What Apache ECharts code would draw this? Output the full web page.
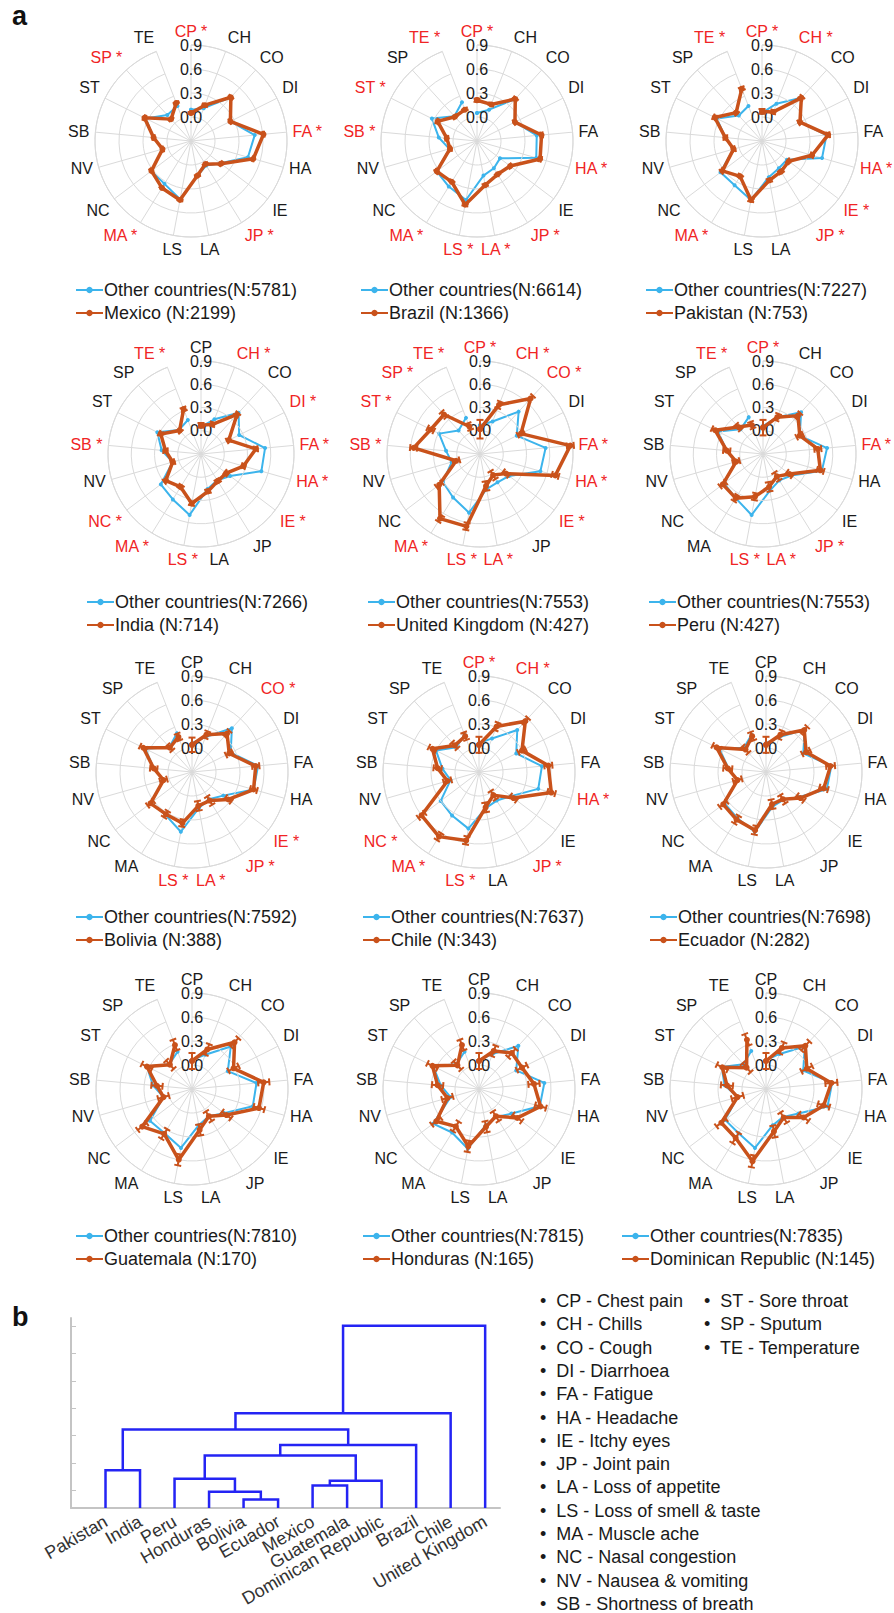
<!DOCTYPE html>
<html>
<head>
<meta charset="utf-8">
<title>Symptom radar charts</title>
<script src="https://cdn.jsdelivr.net/npm/echarts@6/dist/echarts.min.js"></script>
<style>
  html, body { margin: 0; padding: 0; background: #fff; }
  #chart { width: 894px; height: 1613px; }
</style>
</head>
<body>
<div id="chart"></div>
<script>
// symptom codes, clockwise from the top
const symptoms = ['CP', 'CH', 'CO', 'DI', 'FA', 'HA', 'IE', 'JP', 'LA', 'LS', 'MA', 'NC', 'NV', 'SB', 'ST', 'SP', 'TE'];
const symptomNames = ['Chest pain', 'Chills', 'Cough', 'Diarrhoea', 'Fatigue', 'Headache', 'Itchy eyes', 'Joint pain',
  'Loss of appetite', 'Loss of smell & taste', 'Muscle ache', 'Nasal congestion', 'Nausea & vomiting',
  'Shortness of breath', 'Sore throat', 'Sputum', 'Temperature'];

const countries = ['Mexico', 'Brazil', 'Pakistan', 'India', 'United Kingdom', 'Peru',
  'Bolivia', 'Chile', 'Ecuador', 'Guatemala', 'Honduras', 'Dominican Republic'];
const countryN = [2199, 1366, 753, 714, 427, 427, 388, 343, 282, 170, 165, 145];
const otherN = [5781, 6614, 7227, 7266, 7553, 7553, 7592, 7637, 7698, 7810, 7815, 7835];

// proportions per symptom (same order as symptoms)
const mexico      = [0.05, 0.18, 0.44, 0.25, 0.61, 0.51, 0.17, 0.04, 0.14, 0.45, 0.39, 0.32, 0.07, 0.17, 0.35, 0.07, 0.21];
const mexicoOther = [0.09, 0.14, 0.44, 0.25, 0.50, 0.44, 0.16, 0.06, 0.14, 0.44, 0.33, 0.32, 0.07, 0.17, 0.33, 0.14, 0.17];
const brazil      = [0.21, 0.19, 0.41, 0.23, 0.51, 0.52, 0.22, 0.19, 0.26, 0.51, 0.30, 0.33, 0.05, 0.08, 0.25, 0.11, 0.12];
const brazilOther = [0.05, 0.12, 0.41, 0.23, 0.45, 0.47, 0.06, 0.10, 0.14, 0.45, 0.37, 0.33, 0.06, 0.18, 0.33, 0.12, 0.22];
const pakistan      = [0.07, 0.09, 0.43, 0.23, 0.53, 0.35, 0.12, 0.15, 0.20, 0.45, 0.22, 0.32, 0.07, 0.16, 0.36, 0.18, 0.40];
const pakistanOther = [0.05, 0.20, 0.43, 0.23, 0.51, 0.48, 0.09, 0.10, 0.16, 0.45, 0.35, 0.35, 0.07, 0.16, 0.33, 0.13, 0.17];
const india      = [0.07, 0.11, 0.39, 0.10, 0.41, 0.27, 0.11, 0.11, 0.19, 0.35, 0.20, 0.27, 0.08, 0.16, 0.28, 0.11, 0.32];
const indiaOther = [0.05, 0.18, 0.42, 0.25, 0.53, 0.51, 0.17, 0.10, 0.16, 0.50, 0.39, 0.35, 0.08, 0.21, 0.33, 0.12, 0.17];
const uk      = [0.02, 0.38, 0.67, 0.29, 0.87, 0.71, 0.12, 0.02, 0.12, 0.65, 0.68, 0.36, 0.02, 0.56, 0.41, 0.39, 0.08];
const ukOther = [0.07, 0.15, 0.44, 0.23, 0.55, 0.51, 0.17, 0.13, 0.16, 0.47, 0.36, 0.30, 0.08, 0.14, 0.29, 0.11, 0.20];
const peru      = [0.04, 0.21, 0.37, 0.23, 0.41, 0.47, 0.13, 0.04, 0.13, 0.26, 0.37, 0.35, 0.06, 0.17, 0.39, 0.17, 0.10];
const peruOther = [0.06, 0.21, 0.43, 0.23, 0.53, 0.49, 0.16, 0.10, 0.18, 0.50, 0.37, 0.33, 0.07, 0.17, 0.35, 0.13, 0.21];
const bolivia      = [0.04, 0.20, 0.35, 0.22, 0.50, 0.50, 0.27, 0.12, 0.13, 0.35, 0.32, 0.35, 0.07, 0.18, 0.38, 0.11, 0.17];
const boliviaOther = [0.06, 0.17, 0.44, 0.24, 0.53, 0.50, 0.19, 0.10, 0.16, 0.46, 0.33, 0.34, 0.07, 0.18, 0.35, 0.12, 0.22];
const chile      = [0.04, 0.31, 0.56, 0.30, 0.57, 0.64, 0.24, 0.04, 0.15, 0.57, 0.65, 0.60, 0.11, 0.22, 0.35, 0.15, 0.18];
const chileOther = [0.06, 0.15, 0.41, 0.22, 0.49, 0.47, 0.20, 0.12, 0.16, 0.42, 0.34, 0.30, 0.07, 0.16, 0.30, 0.12, 0.20];
const ecuador      = [0.04, 0.20, 0.41, 0.26, 0.51, 0.45, 0.24, 0.10, 0.11, 0.44, 0.40, 0.37, 0.07, 0.18, 0.39, 0.08, 0.18];
const ecuadorOther = [0.06, 0.17, 0.42, 0.22, 0.52, 0.49, 0.22, 0.11, 0.14, 0.46, 0.38, 0.35, 0.07, 0.17, 0.35, 0.11, 0.20];
const guatemala      = [0.05, 0.23, 0.49, 0.28, 0.60, 0.57, 0.24, 0.10, 0.22, 0.60, 0.36, 0.48, 0.07, 0.14, 0.33, 0.11, 0.29];
const guatemalaOther = [0.06, 0.16, 0.42, 0.20, 0.51, 0.49, 0.20, 0.10, 0.16, 0.45, 0.35, 0.36, 0.07, 0.19, 0.33, 0.12, 0.20];
const honduras      = [0.05, 0.21, 0.31, 0.30, 0.39, 0.50, 0.30, 0.10, 0.18, 0.43, 0.25, 0.37, 0.11, 0.22, 0.35, 0.10, 0.29];
const hondurasOther = [0.06, 0.17, 0.43, 0.22, 0.52, 0.49, 0.21, 0.11, 0.16, 0.46, 0.34, 0.42, 0.07, 0.18, 0.34, 0.12, 0.20];
const dominican      = [0.05, 0.25, 0.43, 0.27, 0.52, 0.45, 0.29, 0.12, 0.24, 0.62, 0.42, 0.40, 0.07, 0.19, 0.31, 0.06, 0.36];
const dominicanOther = [0.06, 0.17, 0.42, 0.22, 0.53, 0.50, 0.21, 0.11, 0.16, 0.45, 0.35, 0.34, 0.07, 0.22, 0.32, 0.12, 0.21];

// half-width of the error bars on the country series
const mexicoErr    = [0.01, 0.01, 0.01, 0.01, 0.01, 0.01, 0.01, 0.01, 0.01, 0.01, 0.01, 0.01, 0.01, 0.01, 0.01, 0.01, 0.01];
const brazilErr    = [0.02, 0.015, 0.015, 0.015, 0.015, 0.015, 0.015, 0.015, 0.015, 0.015, 0.015, 0.015, 0.015, 0.015, 0.015, 0.015, 0.015];
const pakistanErr  = [0.03, 0.02, 0.02, 0.02, 0.02, 0.02, 0.02, 0.02, 0.02, 0.02, 0.02, 0.02, 0.02, 0.02, 0.02, 0.02, 0.02];
const indiaErr     = [0.03, 0.025, 0.025, 0.025, 0.025, 0.025, 0.025, 0.025, 0.025, 0.025, 0.025, 0.025, 0.025, 0.025, 0.025, 0.025, 0.025];
const ukErr        = [0.12, 0.045, 0.045, 0.045, 0.045, 0.045, 0.045, 0.06, 0.06, 0.045, 0.045, 0.045, 0.045, 0.045, 0.045, 0.045, 0.045];
const peruErr      = [0.1, 0.045, 0.045, 0.045, 0.045, 0.045, 0.045, 0.06, 0.06, 0.045, 0.045, 0.045, 0.045, 0.045, 0.045, 0.045, 0.045];
const boliviaErr   = [0.09, 0.045, 0.045, 0.045, 0.045, 0.045, 0.045, 0.06, 0.06, 0.045, 0.045, 0.045, 0.045, 0.045, 0.045, 0.045, 0.045];
const chileErr     = [0.1, 0.05, 0.05, 0.05, 0.05, 0.05, 0.05, 0.06, 0.06, 0.05, 0.05, 0.05, 0.05, 0.05, 0.05, 0.05, 0.05];
const ecuadorErr   = [0.1, 0.055, 0.055, 0.055, 0.055, 0.055, 0.055, 0.06, 0.06, 0.055, 0.055, 0.055, 0.055, 0.055, 0.055, 0.055, 0.055];
const guatemalaErr = [0.1, 0.07, 0.07, 0.07, 0.07, 0.07, 0.07, 0.07, 0.07, 0.07, 0.07, 0.07, 0.07, 0.07, 0.07, 0.07, 0.07];
const hondurasErr  = [0.1, 0.07, 0.07, 0.07, 0.07, 0.07, 0.07, 0.07, 0.07, 0.07, 0.07, 0.07, 0.07, 0.07, 0.07, 0.07, 0.07];
const dominicanErr = [0.1, 0.075, 0.075, 0.075, 0.075, 0.075, 0.075, 0.075, 0.075, 0.075, 0.075, 0.075, 0.075, 0.075, 0.075, 0.075, 0.075];

// symptoms marked significant (red label with *)
const mexicoSig = ['CP', 'SP', 'FA', 'JP', 'MA'];
const brazilSig = ['CP', 'TE', 'ST', 'SB', 'HA', 'MA', 'LS', 'LA', 'JP'];
const pakistanSig = ['CP', 'CH', 'TE', 'HA', 'IE', 'JP', 'MA'];
const indiaSig = ['TE', 'CH', 'DI', 'FA', 'HA', 'IE', 'SB', 'NC', 'MA', 'LS'];
const ukSig = ['CP', 'CH', 'CO', 'TE', 'SP', 'ST', 'SB', 'FA', 'HA', 'IE', 'MA', 'LS', 'LA'];
const peruSig = ['CP', 'TE', 'FA', 'LS', 'LA', 'JP'];
const boliviaSig = ['CO', 'IE', 'JP', 'LA', 'LS'];
const chileSig = ['CP', 'CH', 'HA', 'JP', 'NC', 'MA', 'LS'];
const ecuadorSig = [];
const guatemalaSig = [];
const hondurasSig = [];
const dominicanSig = [];

const radarTicks = [0.0, 0.3, 0.6, 0.9];

// dendrogram: leaf order and merges (left, right, height)
const leaves = ['Pakistan', 'India', 'Peru', 'Honduras', 'Bolivia', 'Ecuador', 'Mexico', 'Guatemala',
  'Dominican Republic', 'Brazil', 'Chile', 'United Kingdom'];
const mergeLeft = ['Pakistan', 'Bolivia', 'Honduras', 'Peru', 'Mexico', '#4', '#3', '#6', '#0', '#8', '#9'];
const mergeRight = ['India', 'Ecuador', '#1', '#2', 'Guatemala', 'Dominican Republic', '#5', 'Brazil', '#7', 'Chile', 'United Kingdom'];
const mergeHeight = [1.73, 0.66, 0.94, 1.42, 1.17, 1.35, 2.27, 2.65, 3.22, 3.82, 7.02];
const dendroTicks = [1, 2, 3, 4, 5, 6, 7];

const countryVals = [mexico, brazil, pakistan, india, uk, peru, bolivia, chile, ecuador, guatemala, honduras, dominican];
const otherVals = [mexicoOther, brazilOther, pakistanOther, indiaOther, ukOther, peruOther, boliviaOther,
  chileOther, ecuadorOther, guatemalaOther, hondurasOther, dominicanOther];
const countryErr = [mexicoErr, brazilErr, pakistanErr, indiaErr, ukErr, peruErr, boliviaErr, chileErr,
  ecuadorErr, guatemalaErr, hondurasErr, dominicanErr];
const countrySig = [mexicoSig, brazilSig, pakistanSig, indiaSig, ukSig, peruSig, boliviaSig, chileSig,
  ecuadorSig, guatemalaSig, hondurasSig, dominicanSig];

// layout
const panelCenter = [[191, 141], [477, 141], [762, 141], [201, 454], [480, 454], [763, 454],
  [192, 772], [479, 772], [766, 772], [192, 1089], [479, 1089], [766, 1089]];
const panelRadius = [96, 96, 96, 93, 93, 93, 96, 96, 96, 96, 96, 96];
const legendPos = [[75, 280], [360, 280], [645, 280], [86, 592], [367, 592], [648, 592],
  [75, 907], [362, 907], [649, 907], [75, 1226], [362, 1226], [621, 1226]];

const FONT = "'Liberation Sans', Arial, sans-serif";
const BLUE = '#3cb4ec';
const RED = '#c9521b';
const SIGRED = '#f02424';
const GRID = '#dadada';
const DENDRO = '#2424f4';

const chart = echarts.init(document.getElementById('chart'), null, { renderer: 'svg' });

const polar = [], angleAxis = [], radiusAxis = [], legend = [], series = [];

function closeLoop(vals) {
  const pts = vals.map((v, k) => [v, k]);
  pts.push([vals[0], 0]);
  return pts;
}

function errorBars(params, api) {
  const v = api.value(0), k = api.value(1), e = api.value(2);
  const lo = Math.max(v - e, -0.3), hi = v + e;
  const c = api.coord([-0.3, k]), o = api.coord([0.9, k]);
  const len = Math.hypot(o[0] - c[0], o[1] - c[1]);
  const ux = (o[0] - c[0]) / len, uy = (o[1] - c[1]) / len;
  const nx = -uy * 3.5, ny = ux * 3.5;
  const p1 = api.coord([lo, k]), p2 = api.coord([hi, k]);
  const style = { stroke: RED, lineWidth: 2, fill: null };
  return {
    type: 'group',
    children: [
      { type: 'line', shape: { x1: p1[0], y1: p1[1], x2: p2[0], y2: p2[1] }, style },
      { type: 'line', shape: { x1: p1[0] - nx, y1: p1[1] - ny, x2: p1[0] + nx, y2: p1[1] + ny }, style },
      { type: 'line', shape: { x1: p2[0] - nx, y1: p2[1] - ny, x2: p2[0] + nx, y2: p2[1] + ny }, style }
    ]
  };
}

countries.forEach((name, i) => {
  const sig = countrySig[i];
  const blueName = 'Other countries(N:' + otherN[i] + ')';
  const redName = name + ' (N:' + countryN[i] + ')';

  polar.push({ center: panelCenter[i], radius: panelRadius[i] });
  angleAxis.push({
    polarIndex: i,
    type: 'category',
    data: symptoms,
    boundaryGap: false,
    startAngle: 90,
    clockwise: true,
    axisLine: { lineStyle: { color: GRID, width: 1 } },
    axisTick: { show: false },
    splitLine: { show: true, lineStyle: { color: GRID, width: 1 } },
    axisLabel: {
      margin: 6,
      fontSize: 16,
      color: '#1a1a1a',
      fontFamily: FONT,
      formatter: v => (sig.indexOf(v) >= 0 ? '{r|' + v + ' *}' : v),
      rich: { r: { color: SIGRED, fontSize: 16, fontFamily: FONT } }
    }
  });
  radiusAxis.push({
    polarIndex: i,
    type: 'value',
    min: -0.3,
    max: 0.9,
    interval: 0.3,
    axisLine: { show: false },
    axisTick: { show: false },
    splitLine: { show: true, lineStyle: { color: GRID, width: 1 } },
    axisLabel: {
      margin: 0,
      align: 'center',
      verticalAlign: 'middle',
      fontSize: 16,
      color: '#1a1a1a',
      fontFamily: FONT,
      formatter: v => (radarTicks.some(t => Math.abs(t - v) < 1e-6) ? v.toFixed(1) : '')
    },
    z: 4
  });
  legend.push({
    orient: 'vertical',
    left: legendPos[i][0],
    top: legendPos[i][1],
    padding: 0,
    itemGap: 3,
    itemWidth: 27,
    itemHeight: 8,
    selectedMode: false,
    textStyle: { fontSize: 18, color: '#1a1a1a', fontFamily: FONT, lineHeight: 20, padding: [0, 0, 0, -4] },
    data: [blueName, redName]
  });
  series.push({
    type: 'line',
    name: blueName,
    coordinateSystem: 'polar',
    polarIndex: i,
    data: closeLoop(otherVals[i]),
    symbol: 'circle',
    symbolSize: 4,
    lineStyle: { color: BLUE, width: 2 },
    itemStyle: { color: BLUE },
    z: 3,
    animation: false
  });
  series.push({
    type: 'line',
    name: redName,
    coordinateSystem: 'polar',
    polarIndex: i,
    data: closeLoop(countryVals[i]),
    symbol: 'circle',
    symbolSize: 6,
    lineStyle: { color: RED, width: 3.5 },
    itemStyle: { color: RED },
    z: 4,
    animation: false
  });
  series.push({
    type: 'custom',
    coordinateSystem: 'polar',
    polarIndex: i,
    data: countryVals[i].map((v, k) => [v, k, countryErr[i][k]]),
    renderItem: errorBars,
    silent: true,
    z: 5,
    animation: false
  });
});

// dendrogram node positions
const nodeX = {}, nodeY = {};
leaves.forEach((l, k) => { nodeX[l] = k + 1; nodeY[l] = 0.35; });
const dendroData = mergeHeight.map((h, m) => {
  const a = mergeLeft[m], b = mergeRight[m];
  const row = [nodeX[a], nodeY[a], nodeX[b], nodeY[b], h];
  nodeX['#' + m] = (nodeX[a] + nodeX[b]) / 2;
  nodeY['#' + m] = h;
  return row;
});

series.push({
  type: 'custom',
  xAxisIndex: 0,
  yAxisIndex: 0,
  data: dendroData,
  renderItem: (params, api) => {
    const pA = api.coord([api.value(0), api.value(1)]);
    const pAh = api.coord([api.value(0), api.value(4)]);
    const pBh = api.coord([api.value(2), api.value(4)]);
    const pB = api.coord([api.value(2), api.value(3)]);
    return {
      type: 'polyline',
      shape: { points: [pA, pAh, pBh, pB] },
      style: { stroke: DENDRO, lineWidth: 2.5, fill: null }
    };
  },
  silent: true,
  animation: false
});

const graphic = [
  { type: 'text', left: 12, top: 2, style: { text: 'a', font: "bold 27px " + FONT, fill: '#111' } },
  { type: 'text', left: 12, top: 1303, style: { text: 'b', font: "bold 27px " + FONT, fill: '#111' } }
];
symptoms.forEach((code, k) => {
  const col = k < 14 ? 0 : 1;
  const row = k < 14 ? k : k - 14;
  graphic.push({
    type: 'text',
    x: col === 0 ? 540 : 704,
    y: 1301 + row * 23.3,
    style: {
      text: '\u2022  ' + code + ' - ' + symptomNames[k],
      font: '18px ' + FONT,
      fill: '#1a1a1a',
      verticalAlign: 'middle'
    }
  });
});

chart.setOption({
  animation: false,
  textStyle: { fontFamily: FONT },
  polar: polar,
  angleAxis: angleAxis,
  radiusAxis: radiusAxis,
  legend: legend,
  grid: [
    { left: 71, top: 1318, width: 429, height: 190 },
    // label band: one category per leaf, centred on the leaf positions of grid 0
    { left: 88.75, top: 1318, width: 414, height: 190 }
  ],
  xAxis: [
    {
      gridIndex: 0,
      type: 'value',
      min: 0,
      max: 12.43,
      axisLine: { show: true, lineStyle: { color: '#c4c4c4', width: 2 } },
      axisTick: { show: false },
      splitLine: { show: false },
      axisLabel: { show: false }
    },
    {
      gridIndex: 1,
      type: 'category',
      data: leaves,
      axisLine: { show: false },
      axisTick: { show: false },
      splitLine: { show: false },
      axisLabel: {
        interval: 0,
        rotate: 30,
        margin: 12,
        fontSize: 18,
        color: '#333',
        fontFamily: FONT
      }
    }
  ],
  yAxis: [
    {
      gridIndex: 0,
      type: 'value',
      min: 0.35,
      max: 7.3,
      axisLine: { show: true, lineStyle: { color: '#c4c4c4', width: 2 } },
      axisTick: { show: true, inside: true, length: 5, customValues: dendroTicks, lineStyle: { color: '#c4c4c4' } },
      axisLabel: { show: false },
      splitLine: { show: false }
    },
    { gridIndex: 1, type: 'value', show: false, min: 0, max: 1 }
  ],
  graphic: graphic,
  series: series
});
</script>
</body>
</html>
